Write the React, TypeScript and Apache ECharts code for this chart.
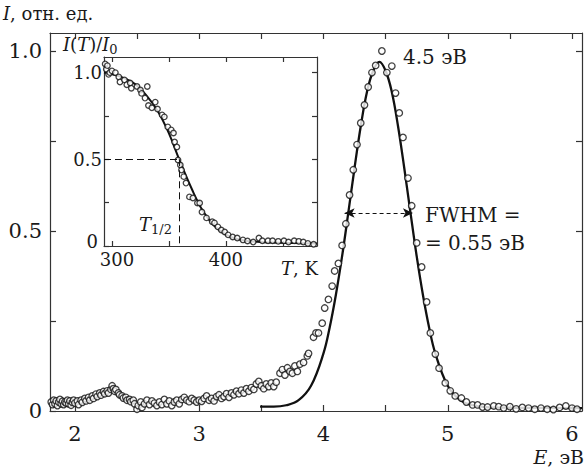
import React, { useEffect, useRef } from 'react';
import * as echarts from 'echarts';

// ---------- Main spectrum: measured points [E (eV), I (rel. units)] ----------
const lowEnergyPoints: number[][] = [
  [1.81, 0.025], [1.82, 0.018], [1.83, 0.03], [1.84, 0.02], [1.85, 0.028], [1.86, 0.015],
  [1.87, 0.025], [1.88, 0.032], [1.89, 0.02], [1.9, 0.027], [1.91, 0.018], [1.92, 0.025],
  [1.93, 0.022], [1.94, 0.03], [1.95, 0.02], [1.96, 0.028], [1.97, 0.016], [1.98, 0.024],
  [1.99, 0.03], [2.0, 0.022], [2.02, 0.028], [2.03, 0.018], [2.05, 0.03], [2.06, 0.024],
  [2.08, 0.035], [2.09, 0.028], [2.11, 0.038], [2.12, 0.03], [2.14, 0.042], [2.15, 0.035],
  [2.17, 0.047], [2.18, 0.04], [2.2, 0.05], [2.21, 0.044], [2.23, 0.054], [2.24, 0.048],
  [2.26, 0.056], [2.27, 0.05], [2.29, 0.06], [2.3, 0.07], [2.31, 0.062], [2.32, 0.055],
  [2.33, 0.06], [2.35, 0.05], [2.36, 0.045], [2.38, 0.042], [2.39, 0.036], [2.41, 0.038],
  [2.42, 0.03], [2.44, 0.032], [2.45, 0.026], [2.47, 0.03], [2.48, 0.02], [2.5, 0.005],
  [2.51, 0.015], [2.53, 0.025], [2.54, 0.01], [2.56, 0.02], [2.58, 0.03], [2.6, 0.018],
  [2.62, 0.028], [2.64, 0.022], [2.66, 0.015], [2.68, 0.025], [2.7, 0.018], [2.72, 0.032],
  [2.74, 0.02], [2.76, 0.028], [2.78, 0.015], [2.8, 0.025], [2.82, 0.03], [2.84, 0.02],
  [2.86, 0.032], [2.88, 0.038], [2.9, 0.03], [2.92, 0.026], [2.94, 0.035], [2.96, 0.03],
  [2.98, 0.025], [3.0, 0.03], [3.02, 0.027], [3.04, 0.035], [3.06, 0.042], [3.08, 0.03],
  [3.1, 0.035], [3.12, 0.028], [3.14, 0.04], [3.16, 0.045], [3.18, 0.035], [3.2, 0.04],
  [3.22, 0.048], [3.24, 0.038], [3.26, 0.05], [3.28, 0.045], [3.3, 0.055], [3.32, 0.048],
  [3.34, 0.058], [3.36, 0.05], [3.38, 0.062], [3.4, 0.055], [3.42, 0.065], [3.44, 0.06],
  [3.46, 0.075], [3.48, 0.082], [3.5, 0.07], [3.52, 0.062], [3.54, 0.075], [3.56, 0.068],
  [3.58, 0.078], [3.6, 0.068], [3.62, 0.08], [3.65, 0.105], [3.67, 0.115], [3.69, 0.1],
  [3.71, 0.12], [3.73, 0.11], [3.75, 0.105], [3.77, 0.125], [3.79, 0.11],
];
const risePoints: number[][] = [
  [3.81, 0.13], [3.84, 0.135], [3.87, 0.153], [3.88, 0.16], [3.92, 0.205], [3.94, 0.217],
  [3.96, 0.217], [3.99, 0.244], [4.01, 0.286], [4.04, 0.31], [4.07, 0.347], [4.09, 0.389],
  [4.12, 0.41], [4.15, 0.46], [4.18, 0.52], [4.21, 0.6], [4.24, 0.67], [4.27, 0.74],
  [4.3, 0.8], [4.33, 0.85], [4.36, 0.9], [4.39, 0.94], [4.42, 0.96],
];
const peakTailPoints: number[][] = [
  [4.47, 1.0], [4.51, 0.94], [4.55, 0.958], [4.58, 0.883], [4.61, 0.828], [4.64, 0.76],
  [4.68, 0.647], [4.71, 0.57], [4.75, 0.467], [4.79, 0.4], [4.83, 0.303], [4.86, 0.217],
  [4.9, 0.158], [4.93, 0.119], [4.98, 0.078], [5.02, 0.056], [5.06, 0.042], [5.11, 0.036],
  [5.15, 0.025], [5.2, 0.017], [5.24, 0.017], [5.28, 0.011], [5.32, 0.011], [5.37, 0.014],
  [5.41, 0.012], [5.45, 0.008], [5.5, 0.012], [5.55, 0.006], [5.6, 0.01], [5.65, 0.008],
  [5.7, 0.005], [5.75, 0.008], [5.8, 0.005], [5.85, 0.004], [5.9, 0.01], [5.95, 0.014],
  [6.0, 0.008], [6.04, 0.005],
];
// Fitted curve
const fitCurve: number[][] = [
  [3.49, 0.012], [3.6, 0.012], [3.7, 0.016], [3.8, 0.03], [3.9, 0.07], [4.0, 0.16],
  [4.05, 0.232], [4.1, 0.323], [4.15, 0.43], [4.2, 0.551], [4.25, 0.675], [4.3, 0.791],
  [4.35, 0.886], [4.4, 0.945], [4.45, 0.97], [4.5, 0.945], [4.55, 0.886], [4.6, 0.791],
  [4.65, 0.675], [4.7, 0.551], [4.75, 0.43], [4.8, 0.323], [4.85, 0.232], [4.9, 0.16],
  [5.0, 0.07], [5.1, 0.03], [5.2, 0.016], [5.3, 0.011], [5.5, 0.009], [6.08, 0.008],
];
const fwhmArrow = { from: 4.17, to: 4.72, level: 0.55 };

// ---------- Inset: I(T)/I0 versus T (K) ----------
const insetPoints: number[][] = [
  [294, 1.05], [295, 1.02], [296, 1.04], [297, 0.99], [298, 1.0], [300, 1.01], [303, 1.0],
  [306, 0.975], [307, 0.946], [311, 0.958], [313, 0.93], [316, 0.94], [317, 0.91],
  [322, 0.92], [325, 0.9], [326, 0.88], [329, 0.853], [331, 0.92], [332, 0.81],
  [335, 0.797], [338, 0.83], [340, 0.79], [344, 0.756], [346, 0.745], [349, 0.687],
  [352, 0.67], [354, 0.652], [355, 0.6], [357, 0.571], [358, 0.496], [360, 0.467],
  [361, 0.438], [363, 0.4], [365, 0.363], [368, 0.283], [371, 0.277], [375, 0.248],
  [377, 0.248], [379, 0.196], [383, 0.162], [388, 0.14], [390, 0.133], [393, 0.11],
  [396, 0.092], [399, 0.081], [402, 0.064], [406, 0.052], [410, 0.046], [415, 0.035],
  [419, 0.029], [424, 0.023], [429, 0.046], [432, 0.03], [437, 0.03], [441, 0.03],
  [446, 0.027], [451, 0.03], [455, 0.023], [460, 0.03], [464, 0.027], [468, 0.023],
  [472, 0.015], [477, 0.01],
];
const insetFit: number[][] = [
  [293, 1.0], [300, 0.99], [310, 0.97], [320, 0.935], [330, 0.87], [340, 0.78],
  [350, 0.65], [359, 0.5], [370, 0.33], [380, 0.2], [390, 0.115], [400, 0.065],
  [410, 0.04], [420, 0.028], [440, 0.02], [460, 0.017], [480, 0.015],
];
const halfTemperature = 359;

// ---------- Ticks ----------
const mainXTicks = [2, 2.5, 3, 3.5, 4, 4.5, 5, 5.5, 6];
const mainXLabels = [2, 3, 4, 5, 6];
const mainYTicks = [0, 0.25, 0.5, 0.75, 1];
const mainYLabels = [0, 0.5, 1];
const insetXTicks = [300, 350, 400, 450];
const insetXLabels = [300, 400];
const insetYTicks = [0, 0.25, 0.5, 0.75, 1];
const insetYLabels = [0, 0.5, 1];

const FONT = 'DejaVu Serif';
const INK = '#1a1a1a';
const AXIS = '#333';

const fmtY = (v: number) => (v === 0 ? '0' : v.toFixed(1));
const fmtInsetY = (v: number) => (v === 0 ? '{z|0}' : v.toFixed(1));
const fmtInsetX = (v: number) => (v === 300 ? '{p|300}' : String(v));

function richText(size: number) {
  return {
    i: { fontStyle: 'italic', fontFamily: FONT, fontSize: size, fill: INK, color: INK, lineHeight: size + 6 },
    n: { fontStyle: 'normal', fontFamily: FONT, fontSize: size, fill: INK, color: INK, lineHeight: size + 6 },
    s: { fontStyle: 'normal', fontFamily: FONT, fontSize: Math.round(size * 0.72), fill: INK, color: INK, lineHeight: size + 6, verticalAlign: 'bottom' },
  };
}

function txt(x: number, y: number, text: string, size: number, align = 'left') {
  return {
    type: 'text',
    x,
    y,
    z: 100,
    style: {
      text,
      rich: richText(size),
      fontFamily: FONT,
      fontSize: size,
      fill: INK,
      align,
      textAlign: align,
      verticalAlign: 'middle',
      textVerticalAlign: 'middle',
    },
  };
}

function valAxis(grid: number, min: number, max: number, pos: string, ticks: number[], labels: number[] | null, fontSize: number, margin: number, fmt: (v: number) => string, tickLen: number) {
  return {
    type: 'value',
    gridIndex: grid,
    min,
    max,
    position: pos,
    axisLine: { show: true, onZero: false, lineStyle: { color: AXIS, width: 1.2 } },
    axisTick: { show: true, inside: true, length: tickLen, customValues: ticks, lineStyle: { color: AXIS, width: 1.2 } },
    axisLabel: labels
      ? {
          show: true,
          customValues: labels,
          formatter: fmt,
          fontFamily: FONT,
          fontStyle: 'normal',
          fontSize,
          color: INK,
          margin,
          showMinLabel: true,
          showMaxLabel: true,
          rich: {
            z: { fontFamily: FONT, fontSize, color: INK, padding: [0, 4, 10, 0] },
            p: { fontFamily: FONT, fontSize, color: INK, padding: [0, 0, 0, 10] },
          },
        }
      : { show: false },
    splitLine: { show: false },
  };
}

export default function App() {
  const ref = useRef<HTMLDivElement>(null);
  useEffect(() => {
    if (!ref.current) return;
    const chart = echarts.init(ref.current, undefined, { renderer: 'svg' });
    const circle = { color: '#fff', borderColor: '#111', borderWidth: 1.3 };
    chart.setOption({
      animation: false,
      backgroundColor: '#fff',
      textStyle: { fontFamily: FONT },
      grid: [
        { left: 50, top: 33, width: 532, height: 378, show: false },
        { left: 104, top: 57, width: 213, height: 189, show: true, backgroundColor: '#fff', borderWidth: 0 },
      ],
      xAxis: [
        valAxis(0, 1.8, 6.08, 'bottom', mainXTicks, mainXLabels, 21, 12, (v) => String(v), 6),
        valAxis(0, 1.8, 6.08, 'top', mainXTicks, null, 21, 10, String, 6),
        valAxis(1, 293, 480, 'bottom', insetXTicks, insetXLabels, 18, 4, fmtInsetX, 5),
        valAxis(1, 293, 480, 'top', insetXTicks, null, 18, 4, String, 5),
      ],
      yAxis: [
        valAxis(0, 0, 1.05, 'left', mainYTicks, mainYLabels, 21, 8, fmtY, 6),
        valAxis(0, 0, 1.05, 'right', mainYTicks, null, 21, 9, fmtY, 6),
        valAxis(1, 0, 1.09, 'left', insetYTicks, insetYLabels, 18, 2, fmtInsetY, 5),
        valAxis(1, 0, 1.09, 'right', insetYTicks, null, 18, 3, fmtY, 5),
      ],
      series: [
        {
          type: 'line',
          xAxisIndex: 0,
          yAxisIndex: 0,
          data: fitCurve,
          smooth: 0.4,
          showSymbol: false,
          lineStyle: { color: '#111', width: 2.3 },
          z: 2,
          markLine: {
            silent: true,
            symbol: ['arrow', 'arrow'],
            symbolSize: [7, 10],
            label: { show: false },
            lineStyle: { type: [4, 3], color: '#111', width: 1 },
            data: [[{ coord: [fwhmArrow.from, fwhmArrow.level] }, { coord: [fwhmArrow.to, fwhmArrow.level] }]],
          },
        },
        {
          type: 'scatter',
          xAxisIndex: 0,
          yAxisIndex: 0,
          data: [...lowEnergyPoints, ...risePoints, ...peakTailPoints],
          symbol: 'circle',
          symbolSize: 6.5,
          itemStyle: circle,
          z: 3,
        },
        {
          type: 'line',
          xAxisIndex: 2,
          yAxisIndex: 2,
          data: insetFit,
          smooth: 0.4,
          showSymbol: false,
          lineStyle: { color: '#111', width: 2 },
          z: 2,
          markLine: {
            silent: true,
            symbol: ['none', 'none'],
            label: { show: false },
            lineStyle: { type: [7, 4], color: '#111', width: 1 },
            data: [
              [{ coord: [293, 0.5] }, { coord: [halfTemperature, 0.5] }],
              [{ coord: [halfTemperature, 0.5] }, { coord: [halfTemperature, 0] }],
            ],
          },
        },
        {
          type: 'scatter',
          xAxisIndex: 2,
          yAxisIndex: 2,
          data: insetPoints,
          symbol: 'circle',
          symbolSize: 5.5,
          itemStyle: circle,
          z: 3,
        },
      ],
      graphic: [
        txt(3, 13, '{i|I}{n|, отн. ед.}', 18),
        txt(584, 457, '{i|E}{n|, эВ}', 19, 'right'),
        txt(403, 57, '{n|4.5 эВ}', 20),
        txt(425, 215, '{n|FWHM =}', 20),
        txt(425, 243, '{n|= 0.55 эВ}', 20),
        txt(63, 44, '{i|I}{n|(}{i|T}{n|)/}{i|I}{s|0}', 18),
        txt(281, 268, '{i|T}{n|, K}', 18),
        txt(139, 224, '{i|T}{s|1/2}', 18),
      ],
    });
    return () => chart.dispose();
  }, []);
  return <div ref={ref} style={{ position: 'fixed', left: 0, top: 0, width: 587, height: 468 }} />;
}
